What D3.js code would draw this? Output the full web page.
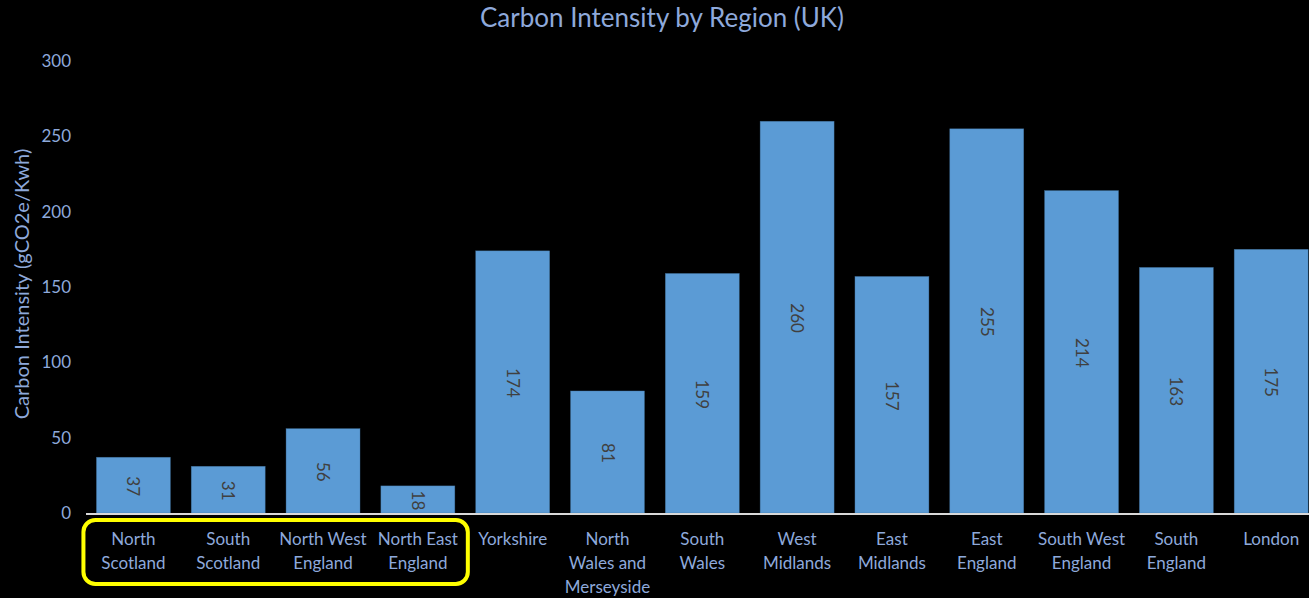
<!DOCTYPE html>
<html>
<head>
<meta charset="utf-8">
<script src="https://cdn.jsdelivr.net/npm/d3@7"></script>
<style>
  html, body { margin: 0; padding: 0; background: #000; }
  svg { display: block; }
</style>
</head>
<body>
<svg id="chart" width="1309" height="598"></svg>
<script>
const categories = ["North Scotland", "South Scotland", "North West England", "North East England",
  "Yorkshire", "North Wales and Merseyside", "South Wales", "West Midlands", "East Midlands",
  "East England", "South West England", "South England", "London"];
const labelLines = [["North", "Scotland"], ["South", "Scotland"], ["North West", "England"], ["North East", "England"],
  ["Yorkshire"], ["North", "Wales and", "Merseyside"], ["South", "Wales"], ["West", "Midlands"], ["East", "Midlands"],
  ["East", "England"], ["South West", "England"], ["South", "England"], ["London"]];
const values = [37, 31, 56, 18, 174, 81, 159, 260, 157, 255, 214, 163, 175];
const yTicks = [0, 50, 100, 150, 200, 250, 300];
const highlighted = ["North Scotland", "North East England"];

const font = "Lato, 'Open Sans', sans-serif";
const textColor = "#8EA9DB";
const svg = d3.select("#chart");

const x = d3.scaleBand().domain(categories).range([86, 1318.6]).paddingInner(0.22).paddingOuter(0.11);
const y = d3.scaleLinear().domain([0, 300]).range([513, 61]);

// Title
svg.append("text").attr("x", 662).attr("y", 27).attr("text-anchor", "middle")
  .attr("font-family", font).attr("font-size", 26).attr("fill", textColor)
  .text("Carbon Intensity by Region (UK)");

// Y axis title
svg.append("text").attr("transform", "translate(29,284) rotate(-90)").attr("text-anchor", "middle")
  .attr("font-family", font).attr("font-size", 20).attr("fill", textColor)
  .text("Carbon Intensity (gCO2e/Kwh)");

// Y axis
const yAxis = svg.append("g").attr("transform", "translate(71,0)")
  .call(d3.axisLeft(y).tickValues(yTicks).tickSize(0).tickPadding(0));
yAxis.select(".domain").remove();
yAxis.selectAll("text").attr("font-family", font).attr("font-size", 17).attr("fill", textColor);

// Bars
svg.append("g").selectAll("rect").data(values).join("rect")
  .attr("x", (d, i) => x(categories[i]))
  .attr("y", d => y(d))
  .attr("width", x.bandwidth())
  .attr("height", d => y(0) - y(d))
  .attr("fill", "#5B9BD5")
  .attr("stroke", "#41719C").attr("stroke-width", 0.6).attr("stroke-opacity", 0.6);

// Value labels
svg.append("g").selectAll("text").data(values).join("text")
  .attr("transform", (d, i) => `translate(${x(categories[i]) + x.bandwidth() / 2},${(y(d) + y(0)) / 2 + 1}) rotate(90)`)
  .attr("text-anchor", "middle").attr("dy", "0.35em")
  .attr("font-family", font).attr("font-size", 17).attr("fill", "#404040")
  .text(d => d);

// X axis line
svg.append("line").attr("x1", 86).attr("x2", 1309).attr("y1", y(0) + 1).attr("y2", y(0) + 1)
  .attr("stroke", "#D9D9D9").attr("stroke-width", 2);

// X axis labels
const xl = svg.append("g").selectAll("text").data(categories).join("text")
  .attr("text-anchor", "middle").attr("font-family", font).attr("font-size", 17).attr("fill", textColor)
  .attr("x", d => x(d) + x.bandwidth() / 2).attr("y", 545);
xl.each(function(d, i) {
  const t = d3.select(this);
  labelLines[i].forEach((line, j) => {
    t.append("tspan").attr("x", x(d) + x.bandwidth() / 2).attr("dy", j === 0 ? 0 : 24).text(line);
  });
});

// Highlight box
const x0 = x(highlighted[0]) - 13, x1 = x(highlighted[1]) + x.bandwidth() + 13;
svg.append("rect").attr("x", x0).attr("y", 520).attr("width", x1 - x0).attr("height", 64)
  .attr("rx", 12).attr("fill", "none").attr("stroke", "#FFFF00").attr("stroke-width", 4);
</script>
</body>
</html>
